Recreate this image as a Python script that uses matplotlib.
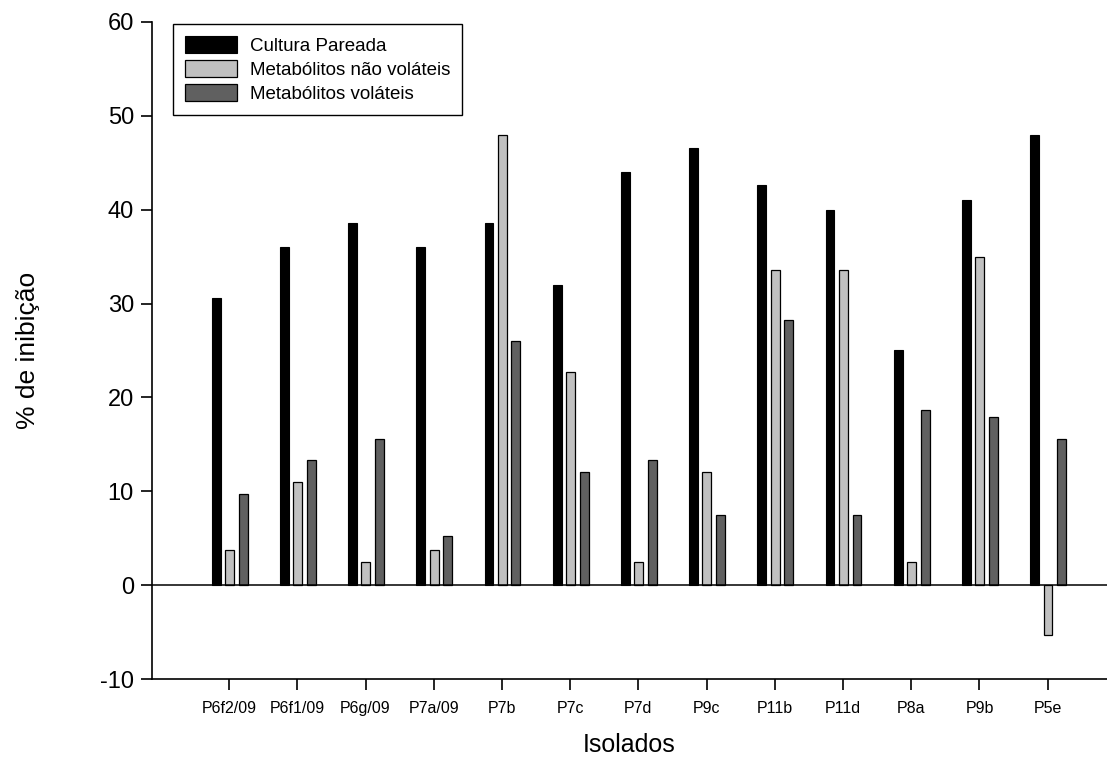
import matplotlib
matplotlib.use("Agg")
import matplotlib.pyplot as plt
import numpy as np

categories = ["P6f2/09", "P6f1/09", "P6g/09", "P7a/09", "P7b", "P7c", "P7d",
              "P9c", "P11b", "P11d", "P8a", "P9b", "P5e"]
cultura_pareada = [30.6, 36.0, 38.6, 36.0, 38.6, 32.0, 44.0, 46.6, 42.6, 40.0, 25.0, 41.0, 48.0]
nao_volateis = [3.75, 11.0, 2.5, 3.75, 48.0, 22.7, 2.5, 12.1, 33.6, 33.6, 2.5, 35.0, -5.3]
volateis = [9.75, 13.3, 15.6, 5.2, 26.0, 12.1, 13.3, 7.5, 28.3, 7.5, 18.7, 17.9, 15.6]
series_names = ["Cultura Pareada", "Metabólitos não voláteis", "Metabólitos voláteis"]
yticks = [-10, 0, 10, 20, 30, 40, 50, 60]

plt.rcParams['font.family'] = ['Liberation Sans', 'DejaVu Sans']
plt.rcParams['axes.unicode_minus'] = False

fig = plt.figure(figsize=(11.07, 7.66), dpi=100)
ax = fig.add_axes([152/1107, 1 - 679/766, 1 - 152/1107, (679 - 22)/766])

x = np.arange(len(categories))
w = 0.13
ax.bar(x - 0.19, cultura_pareada, w, color="black", edgecolor="black", linewidth=0.8,
       label=series_names[0], zorder=3)
ax.bar(x + 0.005, nao_volateis, w, color="#c0c0c0", edgecolor="black", linewidth=0.9,
       label=series_names[1], zorder=3)
ax.bar(x + 0.205, volateis, w, color="#606060", edgecolor="black", linewidth=0.9,
       label=series_names[2], zorder=3)

ax.axhline(0, color="black", linewidth=1.1, zorder=4)

ax.set_xlim(-1.13, 12.87)
ax.set_ylim(-10, 60)
ax.set_yticks(yticks)
ax.set_xticks(x)
ax.set_xticklabels(categories, fontsize=11.5)
ax.tick_params(axis='y', labelsize=17, length=8, width=1.2, direction='out', pad=5)
ax.tick_params(axis='x', length=8, width=1.2, direction='out', pad=8)

for s in ["top", "right"]:
    ax.spines[s].set_visible(False)
for s in ["left", "bottom"]:
    ax.spines[s].set_linewidth(1.2)

ax.set_ylabel("% de inibição", fontsize=19, labelpad=43)
ax.set_xlabel("Isolados", fontsize=18, labelpad=12)

leg = ax.legend(loc="upper left", bbox_to_anchor=(173/1107, 1 - 24/766),
                bbox_transform=fig.transFigure, fontsize=13.5, frameon=True,
                fancybox=False, edgecolor="black", framealpha=1,
                handlelength=2.75, handleheight=1.0, labelspacing=0.27,
                borderpad=0.65, handletextpad=0.7, borderaxespad=0)
leg.get_frame().set_linewidth(1.0)

fig.savefig("out.png", dpi=100)
